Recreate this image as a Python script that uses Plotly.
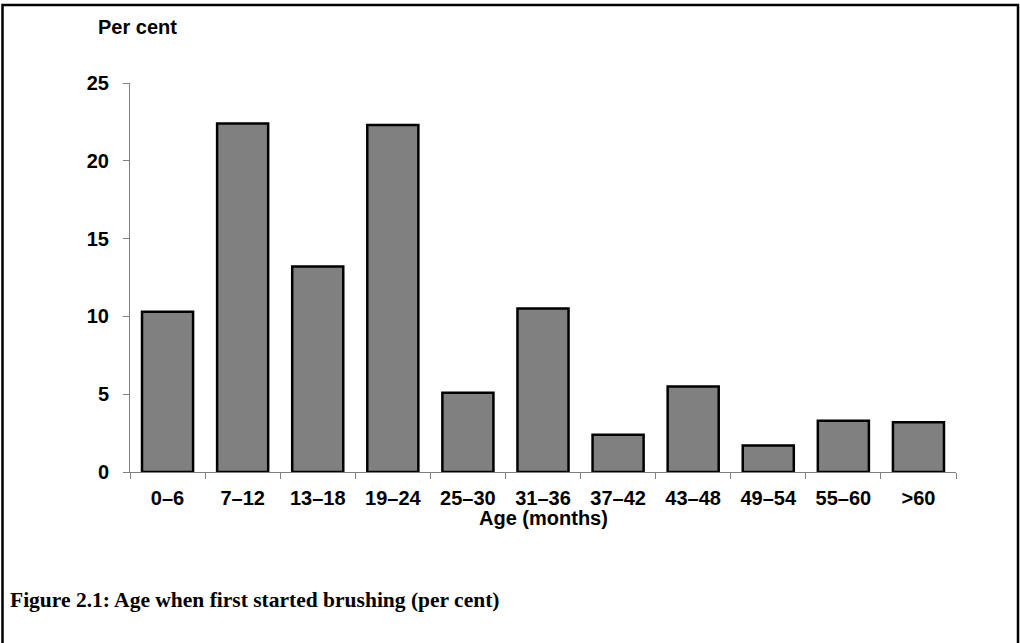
import plotly.graph_objects as go

categories = ["0–6", "7–12", "13–18", "19–24", "25–30", "31–36", "37–42", "43–48", "49–54", "55–60", ">60"]
values = [10.3, 22.4, 13.2, 22.3, 5.1, 10.5, 2.4, 5.5, 1.7, 3.3, 3.2]
y_ticks = [0, 5, 10, 15, 20, 25]

W, H = 1020, 643
# plot area in screen coords
SX0, SX1, SY0, SY1 = 130, 956, 83, 472.5
L, T, R, B = SX0, SY0, W - SX1, H - SY1
pw = SX1 - SX0
ph = SY1 - SY0

def px(x):
    return (x - SX0) / pw

def py(y):
    return (SY1 - y) / ph

fig = go.Figure()
fig.add_trace(go.Bar(
    x=categories, y=values,
    marker=dict(color="#808080", line=dict(color="#000000", width=2.5)),
    width=0.68, hoverinfo="skip",
))

font_sans = "Liberation Sans, Arial, sans-serif"
fig.update_layout(
    width=W, height=H,
    margin=dict(l=L, r=R, t=T, b=B, pad=0),
    paper_bgcolor="white", plot_bgcolor="white",
    showlegend=False,
    font=dict(family=font_sans, size=20, color="black"),
    xaxis=dict(
        type="category", showgrid=False, showline=True, linecolor="#808080", linewidth=1,
        ticks="outside", ticklen=6, tickcolor="#808080", tickson="boundaries",
        tickfont=dict(family=font_sans, size=20, color="black", weight="bold"),
        range=[-0.5, len(categories) - 0.5], ticklabelstandoff=8, automargin=False,
    ),
    yaxis=dict(
        range=[0, 25], tickvals=y_ticks, showgrid=False, showline=True, linecolor="#808080",
        linewidth=1, ticks="outside", ticklen=6, tickcolor="#808080",
        tickfont=dict(family=font_sans, size=20, color="black", weight="bold"),
        zeroline=False, ticklabelstandoff=10, automargin=False,
    ),
    bargap=0.32,
)

fig.add_annotation(text="<b>Per cent</b>", xref="paper", yref="paper",
                   x=px(137), y=py(27), xanchor="center", yanchor="middle", showarrow=False,
                   font=dict(family=font_sans, size=20, color="black"))
fig.add_annotation(text="<b>Age (months)</b>", xref="paper", yref="paper",
                   x=px(543), y=py(519), xanchor="center", yanchor="middle", showarrow=False,
                   font=dict(family=font_sans, size=20, color="black"))
fig.add_annotation(text="<b>Figure 2.1: Age when first started brushing (per cent)</b>",
                   xref="paper", yref="paper", x=px(8), y=py(601),
                   xanchor="left", yanchor="middle", showarrow=False,
                   font=dict(family="Liberation Serif, serif", size=21.5, color="black"))

fig.add_shape(type="rect", xref="paper", yref="paper",
              x0=px(2.5), x1=px(1018), y0=py(5), y1=py(700),
              line=dict(color="black", width=2.5), fillcolor="rgba(0,0,0,0)", layer="above")

fig.write_html("out.html", config={"displayModeBar": False},
               post_script="document.body.style.margin='0';document.body.style.overflow='hidden';")
